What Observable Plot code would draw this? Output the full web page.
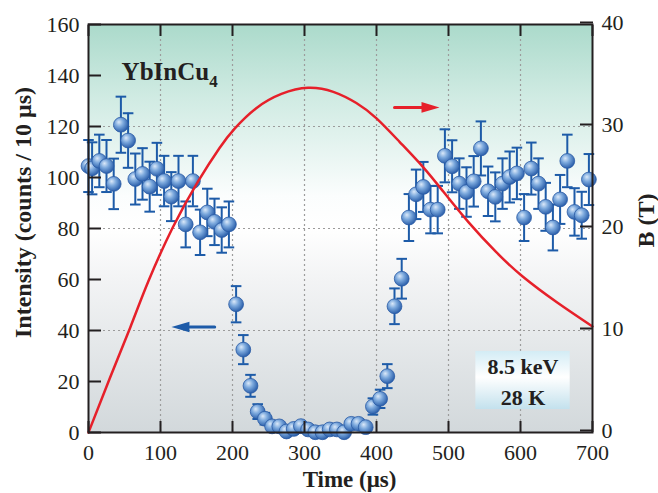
<!DOCTYPE html>
<html><head><meta charset="utf-8">
<script src="https://cdn.jsdelivr.net/npm/d3@7"></script>
<script src="https://cdn.jsdelivr.net/npm/@observablehq/plot@0.6"></script>
<style>
html,body{margin:0;padding:0;background:#fff;}
#chart svg{display:block;}
</style></head><body>
<svg width="0" height="0" style="position:absolute">
<defs>
<linearGradient id="bg" x1="0" y1="0" x2="0" y2="1">
 <stop offset="0" stop-color="#abdacb"/>
 <stop offset="0.18" stop-color="#d0ebe3"/>
 <stop offset="0.42" stop-color="#fbfdfd"/>
 <stop offset="0.5" stop-color="#ffffff"/>
 <stop offset="0.62" stop-color="#f3f4f5"/>
 <stop offset="1" stop-color="#d2d8db"/>
</linearGradient>
<radialGradient id="sphere" cx="0.4" cy="0.38" r="0.62" fx="0.36" fy="0.32">
 <stop offset="0" stop-color="#dbe9f9"/>
 <stop offset="0.45" stop-color="#7ca9dd"/>
 <stop offset="1" stop-color="#2c60ab"/>
</radialGradient>
<linearGradient id="box" x1="0" y1="0" x2="0" y2="1">
 <stop offset="0" stop-color="#d3ecf5"/>
 <stop offset="0.45" stop-color="#ffffff"/>
 <stop offset="1" stop-color="#c3e1ed"/>
</linearGradient>
</defs></svg>
<div id="chart"></div>
<script>
// ---- data ----
const time = [0,5,15,25,35,45,55,65,75,85,95,105,115,125,135,145,155,165,175,185,195,
  205,215,225,235,245,255,265,275,285,295,305,315,325,335,345,355,365,375,385,395,
  405,415,425,435,445,455,465,475,485,495,505,515,525,535,545,555,565,575,585,595,
  605,615,625,635,645,655,665,675,685,695];
const intensity = [104.5,103.6,106.5,104.5,97.5,120.7,114.5,99.4,101.4,96.4,103.4,98.6,92.5,98.6,81.6,98.6,78.5,86.3,82.6,79.4,81.6,
  50.3,32.5,18.3,8.2,5.4,2.4,2.4,0.4,1.4,2.5,1.2,0.1,0.1,1.2,1.2,0.1,3.4,3.4,2.1,10.2,
  13.2,22.1,49.5,60.3,84.3,93.4,96.3,87.4,87.4,108.5,104.4,97.6,94.3,98.5,111.4,94.6,92.4,97.6,100.2,101.6,
  84.3,103.5,97.6,88.5,80.4,91.4,106.5,86.5,85.2,99.2];
const errorBar = [10.2,10.2,10.3,10.2,9.9,11.0,10.7,10.0,10.1,9.8,10.2,9.9,9.6,9.9,9.0,9.9,8.9,9.3,9.1,8.9,9.0,
  7.1,5.7,4.3,2.9,2.3,1.5,1.5,0.6,1.2,1.6,1.1,0.3,0.3,1.1,1.1,0.3,1.8,1.8,1.4,3.2,
  3.6,4.7,7.0,7.8,9.2,9.7,9.8,9.3,9.3,10.4,10.2,9.9,9.7,9.9,10.6,9.7,9.6,9.9,10.0,10.1,
  9.2,10.2,9.9,9.4,9.0,9.6,10.3,9.3,9.2,10.0];
const fieldTime = [0,30,58,83,117,152,182,203,233,268,305,340,372,400,432,465,493,528,566,603,650,700];
const fieldB    = [0,5.4,10.3,14.8,20.1,24.6,27.9,29.8,31.8,33.2,33.8,33.4,32.3,30.8,28.5,26.0,23.6,20.6,17.7,15.3,12.8,10.4];
const xTicks = [0,100,200,300,400,500,600,700];
const yTicks = [0,20,40,60,80,100,120,140,160];
const bTicks = [0,10,20,30,40];          // right axis, tesla
const gridTimes = [100,200,300,400,500,600];
const gridI = [40,80,120];
// annotations (data units)
const redArrowT = [425,463], redHeadT = 475, redArrowI = 127.5;
const blueArrowT = [140.6,175.3], blueHeadT = 127.7, blueArrowI = 41.4;
const titleT = 46, titleI = 141.5;
const boxT = [538,669], boxI = [9,31.8];
const legendLines = ["8.5 keV","28 K"], legendI = [25.9,13.6];

// ---- tables ----
const scaleB = 4; // 40 T <-> 160 counts
const points = time.map((t,i)=>({t, I:intensity[i], e:errorBar[i]}));
const field = fieldTime.map((t,i)=>({t, B:fieldB[i]}));
const legend = legendLines.map((s,i)=>({s, I:legendI[i]}));

const blue = "#1d5ba8", red = "#e6202a", ink = "#231f20";
const capSym = {draw(c){c.moveTo(-5.3,0);c.lineTo(5.3,0);}};
const headRight = {draw(c){c.moveTo(9,0);c.lineTo(-9,-5.3);c.lineTo(-9,5.3);c.closePath();}};
const headLeft = {draw(c){c.moveTo(-9,0);c.lineTo(9,-5.3);c.lineTo(9,5.3);c.closePath();}};

const plot = Plot.plot({
  width:658, height:493, marginLeft:88, marginRight:66, marginTop:24, marginBottom:61,
  style:{fontFamily:"'Liberation Serif','Times New Roman',serif", fontSize:"22px", color:ink, background:"transparent"},
  x:{domain:[0,700]},
  y:{domain:[0,160]},
  marks:[
    Plot.frame({fill:"url(#bg)", stroke:null}),
    Plot.gridX(gridTimes, {stroke:"#9c9c9c", strokeOpacity:1, strokeWidth:1.2, strokeDasharray:"2,3"}),
    Plot.gridY(gridI, {stroke:"#9c9c9c", strokeOpacity:1, strokeWidth:1.2, strokeDasharray:"2,3"}),
    Plot.rect([{x1:boxT[0], x2:boxT[1], y1:boxI[0], y2:boxI[1]}], {x1:"x1", x2:"x2", y1:"y1", y2:"y2", fill:"url(#box)"}),
    Plot.text(legend, {x:(boxT[0]+boxT[1])/2, y:"I", text:"s", fontWeight:"bold", fontSize:22, fill:ink}),
    Plot.ruleX(points, {x:"t", y1:d=>d.I-d.e, y2:d=>d.I+d.e, stroke:blue, strokeWidth:2}),
    Plot.dot(points, {x:"t", y:d=>d.I+d.e, symbol:capSym, stroke:blue, strokeWidth:2, fill:"none"}),
    Plot.dot(points, {x:"t", y:d=>d.I-d.e, symbol:capSym, stroke:blue, strokeWidth:2, fill:"none"}),
    Plot.dot(points, {x:"t", y:"I", r:7.4, fill:"url(#sphere)", stroke:"#2a5ba5", strokeWidth:0.8}),
    Plot.line(field, {x:"t", y:d=>d.B*scaleB, stroke:red, strokeWidth:2.5, curve:"natural"}),
    Plot.line(redArrowT.map(t=>({t})), {x:"t", y:redArrowI, stroke:red, strokeWidth:3}),
    Plot.dot([{t:redHeadT}], {x:"t", y:redArrowI, symbol:headRight, fill:red, stroke:"none"}),
    Plot.line(blueArrowT.map(t=>({t})), {x:"t", y:blueArrowI, stroke:blue, strokeWidth:3}),
    Plot.dot([{t:blueHeadT}], {x:"t", y:blueArrowI, symbol:headLeft, fill:blue, stroke:"none"}),
    Plot.text([{t:titleT, I:titleI}], {x:"t", y:"I", text:()=>"YbInCu", textAnchor:"start", fontWeight:"bold", fontSize:25, fill:ink}),
    Plot.axisX(xTicks, {tickSize:-11, tickPadding:23, strokeWidth:2, label:null, fill:ink}),
    Plot.axisX(xTicks, {anchor:"top", tickSize:-11, tickPadding:0, strokeWidth:2, label:null, tickFormat:()=>""}),
    Plot.axisY(yTicks, {tickSize:-13, tickPadding:22, strokeWidth:2, label:null, fill:ink}),
    Plot.axisY(bTicks.map(b=>b*scaleB), {anchor:"right", tickSize:-13, tickPadding:22, dy:-2, strokeWidth:2, label:null, tickFormat:d=>d/scaleB, fill:ink}),
    Plot.text(["Intensity (counts / 10 μs)"], {frameAnchor:"left", textAnchor:"middle", lineAnchor:"middle", rotate:-90, dx:-65, dy:-16, fontWeight:"bold", fontSize:24, fill:ink}),
    Plot.text(["Time (μs)"], {frameAnchor:"bottom", textAnchor:"middle", lineAnchor:"middle", dx:9, dy:47, fontWeight:"bold", fontSize:23, fill:ink}),
    Plot.text(["B (T)"], {frameAnchor:"right", textAnchor:"middle", lineAnchor:"middle", rotate:-90, dx:54, dy:-8, fontWeight:"bold", fontSize:24, fill:ink}),
    Plot.frame({stroke:ink, strokeWidth:2})
  ]
});
document.getElementById("chart").appendChild(plot);
d3.select(plot).selectAll("text").filter(function(){return this.textContent === "YbInCu";})
  .append("tspan").attr("dy", 7).attr("font-size", 17).text("4");
</script>
</body></html>
